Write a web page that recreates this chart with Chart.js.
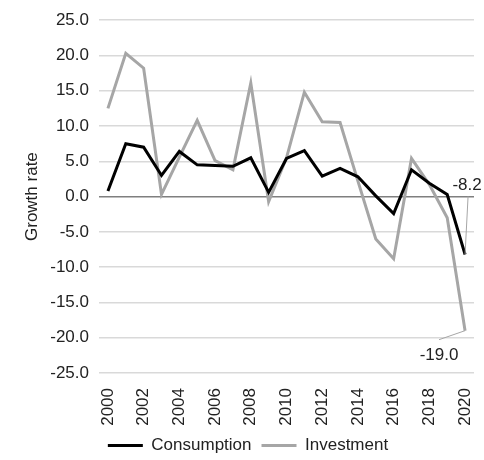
<!DOCTYPE html>
<html>
<head>
<meta charset="utf-8">
<script src="https://cdn.jsdelivr.net/npm/chart.js@4/dist/chart.umd.min.js"></script>
<style>
  html, body { margin: 0; padding: 0; background: #fff; }
  #wrap { width: 484px; height: 460px; }
</style>
</head>
<body>
<div id="wrap"><canvas id="chart" width="484" height="460"></canvas></div>
<script>
// Growth rate of consumption and investment, 2000-2020
const years = ['2000', '2001', '2002', '2003', '2004', '2005', '2006', '2007', '2008', '2009', '2010',
               '2011', '2012', '2013', '2014', '2015', '2016', '2017', '2018', '2019', '2020'];
const consumption = [0.8, 7.5, 7.0, 3.0, 6.4, 4.5, 4.4, 4.3, 5.5, 0.6, 5.4,
                     6.5, 2.9, 4.0, 2.8, 0.1, -2.4, 3.8, 1.9, 0.3, -8.2];
const investment = [12.5, 20.3, 18.2, 0.3, 5.6, 10.8, 5.1, 3.8, 16.1, -0.7, 5.5,
                    14.8, 10.6, 10.5, 2.2, -6.0, -8.8, 5.4, 1.7, -3.0, -19.0];
const yTicks = [-25, -20, -15, -10, -5, 0, 5, 10, 15, 20, 25];

const FONT = 'Liberation Sans, Arial, sans-serif';

// Data labels on the last point with a leader line (Excel style)
const endLabels = {
    id: 'endLabels',
    afterDatasetsDraw(chart) {
        const ctx = chart.ctx;
        const offsets = [{ dx: 2, dy: -69 }, { dx: -26, dy: 25 }];
        chart.data.datasets.forEach((ds, i) => {
            const meta = chart.getDatasetMeta(i);
            const last = meta.data.length - 1;
            const pt = meta.data[last];
            const off = offsets[i];
            const tx = pt.x + off.dx;
            const ty = pt.y + off.dy;
            ctx.save();
            ctx.strokeStyle = '#a6a6a6';
            ctx.lineWidth = 1;
            ctx.beginPath();
            ctx.moveTo(pt.x, pt.y);
            ctx.lineTo(tx + (off.dy < 0 ? 1 : 0), ty + (off.dy < 0 ? 11 : -16));
            ctx.stroke();
            ctx.fillStyle = '#222';
            ctx.font = '17px ' + FONT;
            ctx.textAlign = 'center';
            ctx.textBaseline = 'middle';
            ctx.fillText(ds.data[last].toFixed(1), tx, ty);
            ctx.restore();
        });
    }
};

const ctx = document.getElementById('chart').getContext('2d');
new Chart(ctx, {
    type: 'line',
    data: {
        labels: years,
        datasets: [
            {
                label: 'Consumption',
                data: consumption,
                borderColor: '#000000',
                backgroundColor: '#000000',
                borderWidth: 3,
                pointRadius: 0,
                tension: 0,
                fill: false
            },
            {
                label: 'Investment',
                data: investment,
                borderColor: '#a6a6a6',
                backgroundColor: '#a6a6a6',
                borderWidth: 3,
                pointRadius: 0,
                tension: 0,
                fill: false
            }
        ]
    },
    options: {
        responsive: false,
        animation: false,
        layout: { padding: { top: 20, right: 10, left: 22, bottom: -4 } },
        scales: {
            x: {
                offset: true,
                grid: { display: false },
                border: { display: false },
                ticks: {
                    autoSkip: false,
                    minRotation: 90,
                    maxRotation: 90,
                    color: '#222',
                    font: { family: FONT, size: 17 },
                    padding: 7,
                    callback: function (val, i) { return i % 2 === 0 ? this.getLabelForValue(val) : ''; }
                },
                afterFit(scale) {
                    scale.height = 54;
                    scale.paddingLeft = 0;
                    scale.paddingRight = 0;
                }
            },
            y: {
                min: -25,
                max: 25,
                afterBuildTicks(scale) { scale.ticks = yTicks.map(v => ({ value: v })); },
                border: { display: false },
                grid: {
                    drawTicks: false,
                    lineWidth: 1.5,
                    color: c => c.tick.value === 0 ? '#7f7f7f' : '#d9d9d9'
                },
                ticks: {
                    color: '#222',
                    font: { family: FONT, size: 17 },
                    padding: 10,
                    callback: v => v.toFixed(1)
                },
                title: {
                    display: true,
                    text: 'Growth rate',
                    color: '#222',
                    font: { family: FONT, size: 17 },
                    padding: { top: 0, bottom: 4 }
                },
                afterFit(scale) { scale.width = 77; }
            }
        },
        plugins: {
            legend: {
                position: 'bottom',
                labels: {
                    usePointStyle: true,
                    pointStyleWidth: 35,
                    pointStyle: 'line',
                    color: '#222',
                    font: { family: FONT, size: 17 },
                    padding: 10
                }
            },
            tooltip: { enabled: false }
        }
    },
    plugins: [endLabels]
});
</script>
</body>
</html>
